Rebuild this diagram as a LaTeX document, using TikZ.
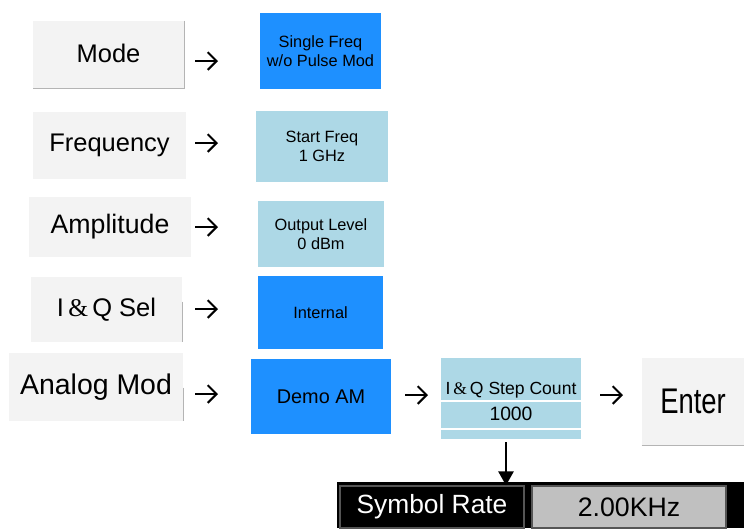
\documentclass[tikz,border=0pt]{standalone}
\usepackage{fontspec}
\usepackage{graphicx}
\setmainfont{Liberation Sans}
\newfontfamily\ampf{Liberation Serif}
\usetikzlibrary{arrows.meta}
\newlength\px
\setlength\px{0.02cm}
\definecolor{btngray}{RGB}{243,243,243}
\definecolor{edgegray}{RGB}{180,180,180}
\definecolor{darkblue}{RGB}{30,144,255}
\definecolor{lightblue}{RGB}{173,216,230}
\definecolor{ratebox}{RGB}{192,192,192}
\definecolor{rateedge}{RGB}{85,85,85}
\begin{document}
\begin{tikzpicture}[x=0.02cm,y=-0.02cm,
	btn/.style={fill=btngray, inner sep=0pt, font=\fontsize{14.5}{16}\selectfont},
	keyon/.style={fill=darkblue, inner sep=0pt, align=center, font=\fontsize{9.3}{11}\selectfont},
	keyval/.style={fill=lightblue, inner sep=0pt, align=center, font=\fontsize{9.3}{11}\selectfont},
	arr/.style={-{Straight Barb[length=5pt,width=10pt]}, line width=1.2pt},
	edge/.style={draw=edgegray, line width=0.8pt}]
	%\draw [help lines] (0,0) grid (744,528);
	\useasboundingbox (0,0) rectangle (744,528);

	% left column
	\node[btn, minimum width=151\px, minimum height=67\px] (mode) at (108.5,54.5) {\raisebox{3\px}{Mode}};
	\node[btn, minimum width=153\px, minimum height=67\px] (freq) at (109.5,145.5) {Frequency};
	\node[btn, minimum width=162\px, minimum height=60\px, font=\fontsize{15.2}{17}\selectfont] (ampl) at (110,227) {Amplitude};
	\node[btn, minimum width=151\px, minimum height=65\px] (iqsel) at (106.5,309.5) {I{\ampf\,\&\,}Q Sel};
	\node[btn, minimum width=174\px, minimum height=68\px, font=\fontsize{16.2}{18}\selectfont] (amod) at (96,387) {Analog Mod};
	\draw[edge] (mode.north east) -- (mode.south east) -- (mode.south west);
	\draw[edge] ([yshift=-25\px]iqsel.north east) -- (iqsel.south east);
	\draw[edge] ([yshift=-35\px]amod.north east) -- (amod.south east);

	% right column
	\node[keyon, minimum width=121\px, minimum height=76\px] (sfreq) at (320.5,51) {Single Freq\\w/o Pulse Mod};
	\node[keyval, minimum width=132\px, minimum height=71\px] (start) at (322,146.5) {Start Freq\\1 GHz};
	\node[keyval, minimum width=126\px, minimum height=66\px] (outlvl) at (321,234) {Output Level\\0 dBm};
	\node[keyon, minimum width=125\px, minimum height=73\px] (intern) at (320.5,312.5) {Internal};
	\node[keyon, minimum width=140\px, minimum height=75\px, font=\fontsize{11.3}{13}\selectfont] (demo) at (321,396.5) {Demo AM};

	% step count
	\node[keyval, minimum width=140\px, minimum height=81\px] (step) at (511,398.5) {};
	\node[font=\fontsize{10}{12}\selectfont, inner sep=0pt] (steplbl) at (511,390) {I{\ampf\,\&\,}Q Step Count};
	\node[font=\fontsize{11}{13}\selectfont, inner sep=0pt] (stepval) at (511,414) {1000};
	\draw[white, line width=1pt] (step.west |- 0,401) -- (step.east |- 0,401);
	\draw[white, line width=1pt] (step.west |- 0,429) -- (step.east |- 0,429);
	\node[fill=btngray, inner sep=0pt, minimum width=102\px, minimum height=87\px,
		font=\fontsize{15.6}{17}\selectfont] (enter) at (693,401.5) {\scalebox{1}[1.3]{Enter}};
	\draw[edge] (enter.south west) -- (enter.south east);

	% symbol rate bar
	\fill[black] (337,482) rectangle (744,528);
	\node[fill=black, draw=rateedge, line width=0.6pt, inner sep=0pt, minimum width=184\px, minimum height=42\px,
		text=white, font=\fontsize{15}{17}\selectfont] (symrate) at (432,507) {Symbol Rate};
	\node[fill=ratebox, draw=rateedge, line width=0.6pt, inner sep=0pt, minimum width=194\px, minimum height=42\px,
		font=\fontsize{15.2}{17}\selectfont] (rate) at (629,507) {2.00KHz};

	% arrows
	\coordinate (a1s) at (195,61);  \coordinate (a1e) at (218,61);
	\coordinate (a2s) at (195,143); \coordinate (a2e) at (218,143);
	\coordinate (a3s) at (195,227); \coordinate (a3e) at (218,227);
	\coordinate (a4s) at (195,309); \coordinate (a4e) at (218,309);
	\coordinate (a5s) at (195,394); \coordinate (a5e) at (218,394);
	\coordinate (a6s) at (405,395); \coordinate (a6e) at (428,395);
	\coordinate (a7s) at (600,395); \coordinate (a7e) at (623,395);
	\foreach \i in {1,...,7}
		\draw[arr] (a\i s) -- (a\i e);
	\draw[-{Triangle[length=8pt,width=8.5pt]}, line width=1.5pt] (step.south) ++(-5,3) coordinate (dn) -- (dn |- symrate.north) ;
\end{tikzpicture}
\end{document}
